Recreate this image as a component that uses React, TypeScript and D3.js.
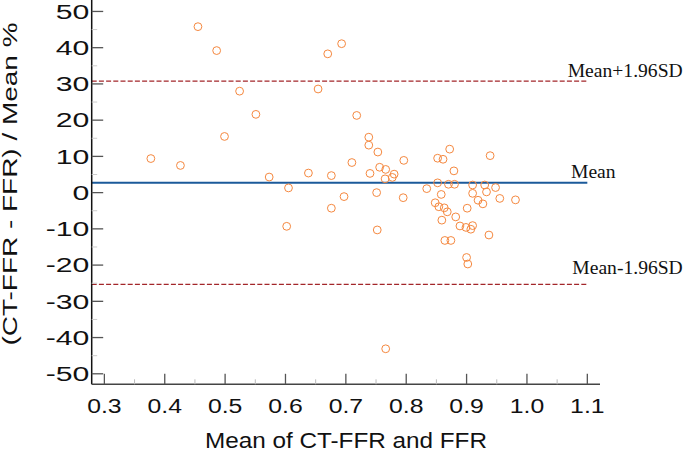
import React, { useRef, useEffect } from "react";
import * as d3 from "d3";

// Bland-Altman: mean of CT-FFR and FFR vs percentage difference
const meanValues = [
  0.455, 0.486, 0.524, 0.551, 0.499, 0.377, 0.426, 0.573, 0.605, 0.638,
  0.676, 0.67, 0.693, 0.654, 0.676, 0.697, 0.71, 0.602, 0.718, 0.738,
  0.738, 0.753, 0.796, 0.74, 0.756, 0.766, 0.78, 0.765, 0.777, 0.751,
  0.795, 0.834, 0.752, 0.872, 0.852, 0.861, 0.939, 0.879, 0.852, 0.87,
  0.88, 0.858, 0.91, 0.91, 0.93, 0.933, 0.948, 0.955, 0.981, 0.919,
  0.927, 0.848, 0.854, 0.863, 0.868, 0.859, 0.882, 0.901, 0.889, 0.899,
  0.907, 0.91, 0.937, 0.864, 0.874, 0.9, 0.902, 0.766,
];
const pctDiffs = [
  45.8, 39.2, 28.0, 21.6, 15.5, 9.4, 7.5, 4.3, 1.3, 5.4,
  4.7, 38.3, 41.1, 28.6, -4.3, -1.1, 8.3, -9.3, 21.3, 15.3,
  13.1, 11.2, 8.9, 5.3, 7.0, 6.4, 5.1, 3.8, 4.2, 0.0,
  -1.4, 1.1, -10.3, 12.0, 9.5, 9.2, 10.2, 6.0, 2.7, 2.3,
  2.3, -0.5, 2.1, -0.2, 2.1, 0.2, 1.4, -1.6, -2.0, -2.1,
  -3.1, -2.8, -3.9, -4.2, -5.3, -7.6, -6.7, -4.3, -9.2, -9.6,
  -10.1, -9.1, -11.7, -13.2, -13.2, -17.9, -19.7, -43.1,
];

const xTicks = [0.3, 0.4, 0.5, 0.6, 0.7, 0.8, 0.9, 1.0, 1.1];
const xMinorTicks = [0.35, 0.45, 0.55, 0.65, 0.75, 0.85, 0.95, 1.05];
const yTicks = [50, 40, 30, 20, 10, 0, -10, -20, -30, -40, -50];
const yMinorTicks = [45, 35, 25, 15, 5, -5, -15, -25, -35, -45];

const meanDiff = 2.7;
const upperLoA = 30.75;
const lowerLoA = -25.3;

export default function App() {
  const ref = useRef<SVGSVGElement>(null);

  useEffect(() => {
    const svg = d3.select(ref.current);
    svg.selectAll("*").remove();

    const left = 91.7;
    const right = 600;
    const top = 0;
    const bottom = 384.3;
    const sans = "'Liberation Sans', Arial, sans-serif";
    const serif = "'Liberation Serif', 'Times New Roman', serif";

    const x = d3.scaleLinear().domain([0.279, 1.121]).range([left, right]);
    const y = d3.scaleLinear().domain([-52.9, 53.16]).range([bottom, top]);

    // reference lines
    const lineEnd = x(1.1);
    svg
      .append("line")
      .attr("x1", left)
      .attr("x2", lineEnd)
      .attr("y1", y(meanDiff))
      .attr("y2", y(meanDiff))
      .attr("stroke", "#1b5a9a")
      .attr("stroke-width", 2);

    [upperLoA, lowerLoA].forEach((v) => {
      svg
        .append("line")
        .attr("x1", left)
        .attr("x2", lineEnd)
        .attr("y1", y(v))
        .attr("y2", y(v))
        .attr("stroke", "#a3262a")
        .attr("stroke-width", 1.3)
        .attr("stroke-dasharray", "5,2.2");
    });

    // labels for reference lines
    const refs = [
      { text: "Mean+1.96SD", x: 567.7, y: 76.7 },
      { text: "Mean", x: 571, y: 177.7 },
      { text: "Mean-1.96SD", x: 572.3, y: 274.3 },
    ];
    refs.forEach((r) => {
      svg
        .append("text")
        .attr("x", r.x)
        .attr("y", r.y)
        .attr("font-family", serif)
        .attr("font-size", 19.6)
        .attr("fill", "#111")
        .text(r.text);
    });

    // points
    svg
      .append("g")
      .selectAll("circle")
      .data(meanValues.map((m, i) => ({ m, d: pctDiffs[i] })))
      .enter()
      .append("circle")
      .attr("cx", (p) => x(p.m))
      .attr("cy", (p) => y(p.d))
      .attr("r", 3.9)
      .attr("fill", "none")
      .attr("stroke", "#f5883f")
      .attr("stroke-width", 1);

    // axes
    svg
      .append("line")
      .attr("x1", left)
      .attr("x2", left)
      .attr("y1", top)
      .attr("y2", bottom)
      .attr("stroke", "#111")
      .attr("stroke-width", 1.5);
    svg
      .append("line")
      .attr("x1", left)
      .attr("x2", right)
      .attr("y1", bottom)
      .attr("y2", bottom)
      .attr("stroke", "#444")
      .attr("stroke-width", 1.5);

    // y ticks (inward)
    yTicks.forEach((v) => {
      svg
        .append("line")
        .attr("x1", left)
        .attr("x2", left + 11.5)
        .attr("y1", y(v))
        .attr("y2", y(v))
        .attr("stroke", "#555")
        .attr("stroke-width", 1.3);
      svg
        .append("g")
        .attr("transform", `translate(89.3,${y(v) + 7.2}) scale(1.55,1)`)
        .append("text")
        .attr("text-anchor", "end")
        .attr("font-family", sans)
        .attr("font-size", 19.5)
        .attr("fill", "#111")
        .text(d3.format("d")(v).replace("−", "-"));
    });
    yMinorTicks.forEach((v) => {
      svg
        .append("line")
        .attr("x1", left)
        .attr("x2", left + 5.5)
        .attr("y1", y(v))
        .attr("y2", y(v))
        .attr("stroke", "#ccc")
        .attr("stroke-width", 1);
    });

    // x ticks (inward)
    xTicks.forEach((v) => {
      svg
        .append("line")
        .attr("x1", x(v))
        .attr("x2", x(v))
        .attr("y1", bottom)
        .attr("y2", bottom - 10.5)
        .attr("stroke", "#555")
        .attr("stroke-width", 1.3);
      svg
        .append("g")
        .attr("transform", `translate(${x(v)},413.3) scale(1.18,1)`)
        .append("text")
        .attr("text-anchor", "middle")
        .attr("font-family", sans)
        .attr("font-size", 21)
        .attr("fill", "#111")
        .text(d3.format(".1f")(v));
    });
    xMinorTicks.forEach((v) => {
      svg
        .append("line")
        .attr("x1", x(v))
        .attr("x2", x(v))
        .attr("y1", bottom)
        .attr("y2", bottom - 5)
        .attr("stroke", "#bbb")
        .attr("stroke-width", 1);
    });

    // axis titles
    svg
      .append("text")
      .attr("x", 346)
      .attr("y", 447.5)
      .attr("text-anchor", "middle")
      .attr("font-family", sans)
      .attr("font-size", 22)
      .attr("textLength", 282)
      .attr("lengthAdjust", "spacingAndGlyphs")
      .attr("fill", "#111")
      .text("Mean of CT-FFR and FFR");

    svg
      .append("text")
      .attr("transform", "translate(16.6,184) rotate(-90)")
      .attr("text-anchor", "middle")
      .attr("font-family", sans)
      .attr("font-size", 21)
      .attr("textLength", 323)
      .attr("lengthAdjust", "spacingAndGlyphs")
      .attr("fill", "#111")
      .text("(CT-FFR - FFR) / Mean %");
  }, []);

  return (
    <svg
      ref={ref}
      width={685}
      height={449}
      style={{ position: "absolute", left: 0, top: 0, background: "#fff" }}
    />
  );
}
